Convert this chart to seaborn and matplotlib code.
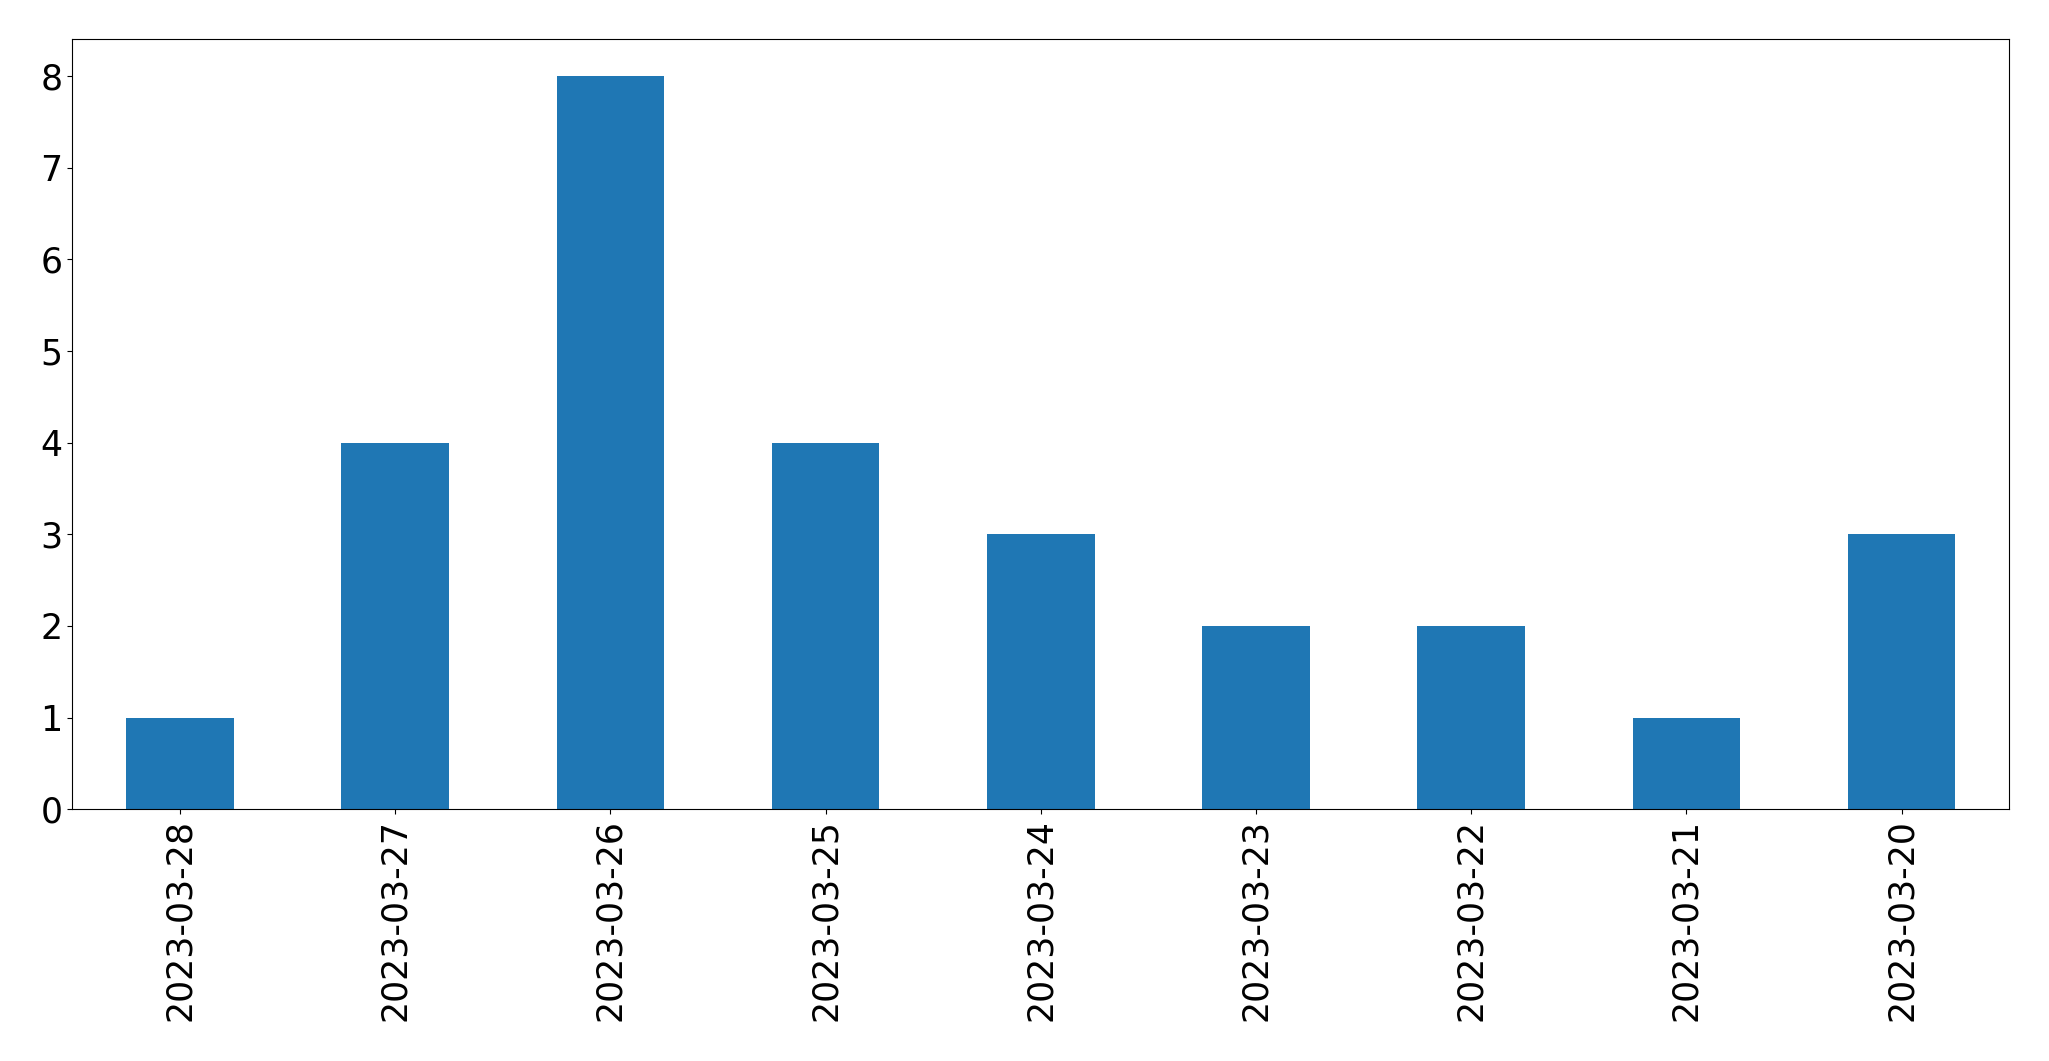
import matplotlib
matplotlib.use("Agg")
import matplotlib.pyplot as plt
import seaborn as sns
import pandas as pd

dates = ["2023-03-28", "2023-03-27", "2023-03-26", "2023-03-25", "2023-03-24",
         "2023-03-23", "2023-03-22", "2023-03-21", "2023-03-20"]
counts = [1, 4, 8, 4, 3, 2, 2, 1, 3]

df = pd.DataFrame({"date": dates, "count": counts})

fig = plt.figure(figsize=(20.49, 10.61), dpi=100)
ax = fig.add_axes([72.3 / 2049, 1 - 809.3 / 1061, (2009.3 - 72.3) / 2049, (809.3 - 39.3) / 1061])
sns.barplot(data=df, x="date", y="count", order=dates, color="#1f77b4",
            saturation=1, width=0.5, ax=ax)
ax.set_xlim(-0.5, len(dates) - 0.5)
ax.set_ylim(0, 8.4)
ax.set_xlabel("")
ax.set_ylabel("")
ax.tick_params(axis="both", labelsize=25)
ax.tick_params(axis="x", labelrotation=90)
fig.savefig("out.png", dpi=100)
